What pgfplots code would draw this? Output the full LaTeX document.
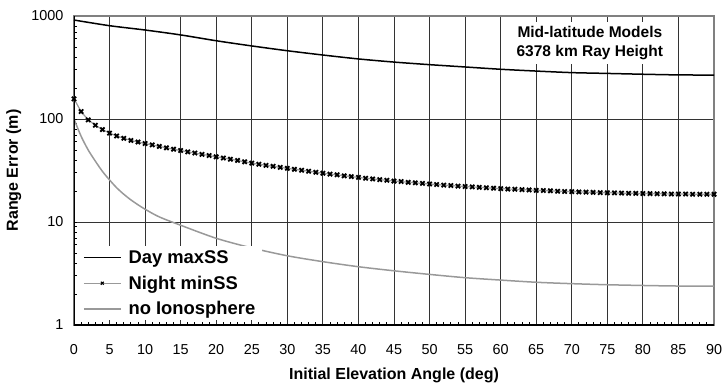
\documentclass[border=0pt]{standalone}
\usepackage{fontspec}
\setmainfont{Liberation Sans}
\usepackage{pgfplots}
\pgfplotsset{compat=1.18}
\definecolor{linegray}{gray}{0.6}
\definecolor{bordergray}{gray}{0.5}
\begin{document}
\begin{tikzpicture}
\begin{axis}[
  scale only axis, width=640pt, height=309pt,
  ymode=log, xmin=0, xmax=90, ymin=1, ymax=1000,
  xtick={0,5,...,90}, minor x tick num=4,
  ytick={1,10,100,1000}, yticklabels={1,10,100,1000},
  xtick pos=left, ytick pos=left,
  grid=major, major grid style={black!80, line width=0.8pt},
  tick align=inside,
  major tick length=0pt, minor tick length=3.5pt,
  minor tick style={black, line width=0.8pt},
  axis line style={bordergray, line width=1.5pt},
  /pgf/number format/assume math mode=true,
  tick label style={font=\fontsize{14.4}{16}\selectfont},
  xticklabel style={yshift=-16pt},
  yticklabel style={xshift=-7pt},
  xlabel={Initial Elevation Angle (deg)},
  ylabel={Range Error (m)},
  xlabel style={font=\bfseries\fontsize{16}{18}\selectfont, at={(axis description cs:0.5,-0.162)}, anchor=center},
  ylabel style={font=\bfseries\fontsize{16}{18}\selectfont, at={(axis description cs:-0.094,0.5)}, anchor=center},
  legend style={draw=none, fill=white, font=\bfseries\fontsize{18.4}{22}\selectfont,
    at={(axis description cs:0.006,0.014)}, anchor=south west, inner xsep=5pt, inner ysep=2pt, row sep=7pt,
    /tikz/every odd column/.style={column sep=5pt}},
  legend cell align=left,
  legend image code/.code={\draw[mark repeat=2,mark phase=2,#1] plot coordinates {(0pt,0pt) (18.5pt,0pt) (37pt,0pt)};},
]
\addplot[black, line width=1.5pt, smooth] coordinates {
(0,914) (5,805) (10,731) (15,655) (20,575) (25,512) (30,460) (35,418) (40,383) (45,357)
(50,337) (55,320) (60,304) (65,292) (70,282) (75,277) (80,272) (85,268) (90,267)};
\addlegendentry{Day maxSS}
\addplot[linegray, line width=1.2pt, mark=x, mark size=3pt, mark options={black, solid, line width=1.8pt},
  legend image post style={mark size=2pt, mark options={black, solid, line width=1.1pt}}] coordinates {
(0,157) (1,118) (2,98) (3,87) (4,79) (5,73) (6,68.5) (7,65) (8,62) (9,59.8)
(10,57.8) (11,56) (12,54.2) (13,52.5) (14,50.9) (15,49.4) (16,48) (17,46.7) (18,45.4) (19,44.2)
(20,43) (21,41.8) (22,40.7) (23,39.6) (24,38.4) (25,37.3) (26,36.4) (27,35.5) (28,34.7) (29,33.9)
(30,33.2) (31,32.5) (32,31.8) (33,31.1) (34,30.4) (35,29.8) (36,29.2) (37,28.7) (38,28.1) (39,27.6)
(40,27.1) (41,26.6) (42,26.2) (43,25.8) (44,25.4) (45,25.0) (46,24.7) (47,24.3) (48,24.0) (49,23.7)
(50,23.4) (51,23.1) (52,22.8) (53,22.6) (54,22.3) (55,22.1) (56,21.9) (57,21.7) (58,21.5) (59,21.3)
(60,21.1) (61,20.9) (62,20.8) (63,20.6) (64,20.5) (65,20.3) (66,20.2) (67,20.1) (68,19.9) (69,19.8)
(70,19.7) (71,19.6) (72,19.5) (73,19.4) (74,19.3) (75,19.2) (76,19.2) (77,19.1) (78,19.0) (79,19.0)
(80,18.9) (81,18.9) (82,18.8) (83,18.8) (84,18.7) (85,18.7) (86,18.7) (87,18.6) (88,18.6) (89,18.6) (90,18.6)};
\addlegendentry{Night minSS}
\addplot[linegray, line width=1.5pt, smooth] coordinates {
(0,100) (1,68) (2,50) (3,39) (4,31) (5,25.6) (6,21.5) (7,18.6) (8,16.4) (9,14.7) (10,13.3)
(12,11.2) (15,9.3) (20,6.95) (25,5.6) (30,4.7) (35,4.12) (40,3.68) (45,3.36) (50,3.1)
(55,2.88) (60,2.73) (65,2.6) (70,2.52) (75,2.46) (80,2.42) (85,2.39) (90,2.38)};
\addlegendentry{no Ionosphere}
\draw[black, line width=1.5pt] (rel axis cs:0,1) -- (rel axis cs:0,0) -- (rel axis cs:1,0);
\node[fill=white, inner sep=4pt, align=center, font=\bfseries\fontsize{15.5}{19}\selectfont]
  at (rel axis cs:0.806,0.913) {Mid-latitude Models\\6378 km Ray Height};
\coordinate (ll) at (rel axis cs:0,0);
\coordinate (ur) at (rel axis cs:1,1);
\end{axis}
\pgfresetboundingbox
\path ([shift={(-74pt,-59pt)}]ll) rectangle ([shift={(9pt,16pt)}]ur);
\end{tikzpicture}
\end{document}
